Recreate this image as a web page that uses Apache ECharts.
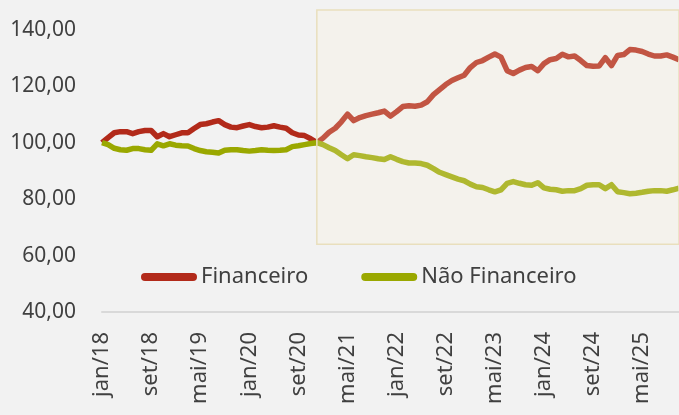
<!DOCTYPE html>
<html>
<head>
<meta charset="utf-8">
<script src="https://cdn.jsdelivr.net/npm/echarts@6/dist/echarts.min.js"></script>
<style>
  html, body { margin: 0; padding: 0; background: #f2f2f2; }
  #chart { width: 679px; height: 415px; }
</style>
</head>
<body>
<div id="chart"></div>
<script>
  // meses jan/18 .. nov/25
  const mesesNomes = ['jan', 'fev', 'mar', 'abr', 'mai', 'jun', 'jul', 'ago', 'set', 'out', 'nov', 'dez'];
  const meses = [];
  for (let a = 18; a <= 25; a++) {
    for (let m = 0; m < 12; m++) {
      if (a === 25 && m > 10) break;
      meses.push(mesesNomes[m] + '/' + a);
    }
  }

  const financeiro = [
    100, 101.8, 103.5, 103.9, 103.9, 103.2, 103.9, 104.3, 104.3, 102.1,
    103.2, 102.1, 102.8, 103.5, 103.5, 105, 106.4, 106.7, 107.3, 107.8,
    106.4, 105.5, 105.3, 105.9, 106.4, 105.7, 105.3, 105.5, 106, 105.5,
    105.1, 103.5, 102.7, 102.5, 101.4, 100, 101.6, 103.7, 105.1, 107.4,
    110.1, 107.8, 108.9, 109.6, 110.1, 110.6, 111.2, 109.4, 111, 112.8,
    113.1, 112.9, 113.3, 114.5, 117, 118.8, 120.6, 122, 123, 123.9,
    126.6, 128.4, 129.1, 130.3, 131.4, 130.3, 125.5, 124.5, 125.7, 126.6,
    127, 125.5, 128, 129.4, 129.8, 131.3, 130.4, 130.7, 129.1, 127.3,
    127.1, 127.2, 130.1, 127.3, 130.9, 131.2, 133, 132.8, 132.3, 131.4,
    130.7, 130.7, 131.1, 130.3, 129.4
  ];
  const naoFinanceiro = [
    100, 99.3, 98, 97.5, 97.3, 97.9, 97.9, 97.5, 97.3, 99.6,
    98.9, 99.6, 99.1, 98.9, 98.8, 97.9, 97.2, 96.8, 96.6, 96.3,
    97.3, 97.5, 97.5, 97.2, 97, 97.2, 97.5, 97.3, 97.2, 97.3,
    97.5, 98.6, 98.9, 99.3, 99.7, 100, 99.3, 98.2, 97.2, 95.7,
    94.3, 95.7, 95.4, 95, 94.7, 94.3, 94, 95, 94.1, 93.3,
    92.8, 92.8, 92.6, 92, 90.8, 89.5, 88.7, 87.9, 87.1, 86.5,
    85.3, 84.4, 84.1, 83.3, 82.6, 83.3, 85.6, 86.2, 85.6, 85.1,
    84.9, 85.8, 84, 83.5, 83.3, 82.8, 83, 83, 83.7, 84.9,
    85.1, 85.1, 83.7, 85.1, 82.6, 82.3, 81.9, 82.1, 82.4, 82.8,
    83, 83, 82.8, 83.3, 83.9
  ];

  // faixa destacada (a partir de dez/20)
  const destaqueInicio = 'dez/20';
  const destaqueFim = 'nov/25';
  const destaqueMin = 64;
  const destaqueMax = 147;

  const fonte = "'Noto Sans', sans-serif";
  const pill = 'path://M4,0 H52 A4,4 0 0 1 52,8 H4 A4,4 0 0 1 4,0 Z';

  const option = {
    backgroundColor: '#f2f2f2',
    animation: false,
    grid: { left: 102, right: -2, top: 10, bottom: 103 },
    legend: {
      left: 136,
      top: 261,
      itemWidth: 56,
      itemHeight: 8,
      itemGap: 53,
      textStyle: { fontFamily: fonte, fontSize: 22, color: '#404040', padding: [0, 0, 0, -1] },
      data: [
        { name: 'Financeiro', icon: pill },
        { name: 'Não Financeiro', icon: pill }
      ]
    },
    xAxis: {
      type: 'category',
      boundaryGap: false,
      data: meses,
      axisLine: { lineStyle: { color: '#d9d9d9', width: 2 } },
      axisTick: { show: false },
      axisLabel: {
        interval: 7,
        rotate: 90,
        margin: 20,
        fontFamily: fonte,
        fontSize: 22,
        color: '#404040'
      },
      splitLine: { show: false }
    },
    yAxis: {
      type: 'value',
      min: 40,
      max: 147,
      interval: 20,
      axisLine: { show: false },
      axisTick: { show: false },
      splitLine: { show: false },
      axisLabel: {
        showMaxLabel: false,
        margin: 26,
        fontFamily: fonte,
        fontSize: 21,
        color: '#404040',
        formatter: function (v) { return v.toFixed(2).replace('.', ','); }
      }
    },
    series: [
      {
        name: 'Financeiro',
        type: 'line',
        data: financeiro,
        symbol: 'none',
        color: '#b22a1a',
        lineStyle: { width: 5.5, color: '#b22a1a', join: 'round' },
        markArea: {
          z: 10,
          silent: true,
          itemStyle: {
            color: 'rgba(251,242,214,0.22)',
            borderColor: '#e9dfbd',
            borderWidth: 1.5
          },
          data: [[
            { xAxis: destaqueInicio, yAxis: destaqueMin },
            { xAxis: destaqueFim, yAxis: destaqueMax }
          ]]
        }
      },
      {
        name: 'Não Financeiro',
        type: 'line',
        data: naoFinanceiro,
        symbol: 'none',
        color: '#9aa800',
        lineStyle: { width: 5.5, color: '#9aa800', join: 'round' }
      }
    ]
  };

  const chartObj = echarts.init(document.getElementById('chart'));
  chartObj.setOption(option);
</script>
</body>
</html>
